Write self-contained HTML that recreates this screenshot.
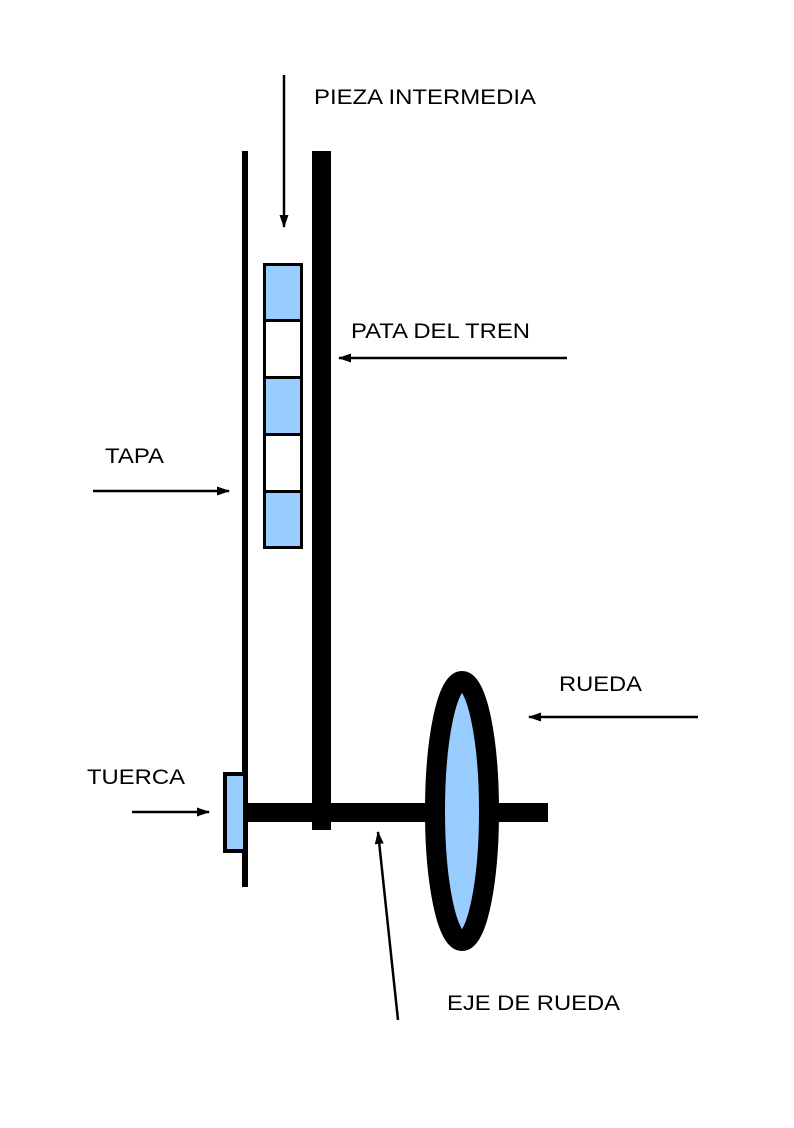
<!DOCTYPE html>
<html><head><style>
body{margin:0;background:#fff}
svg text{font-family:"Liberation Sans",sans-serif;font-size:21px;fill:#000}
</style></head><body>
<svg width="794" height="1123" viewBox="0 0 794 1123" xmlns="http://www.w3.org/2000/svg">
<defs><marker id="a" markerWidth="13" markerHeight="9" refX="12" refY="4.5" orient="auto" markerUnits="userSpaceOnUse"><path d="M0,0 L13,4.5 L0,9 Z" fill="#000"/></marker></defs>
<rect x="242" y="151" width="6" height="736" fill="#000"/>
<rect x="312" y="151" width="19" height="679" fill="#000"/>
<g stroke="#000" stroke-width="3">
<rect x="264.5" y="264.5" width="37" height="56" fill="#99ccff"/>
<rect x="264.5" y="320.5" width="37" height="57" fill="#fff"/>
<rect x="264.5" y="377.5" width="37" height="57" fill="#99ccff"/>
<rect x="264.5" y="434.5" width="37" height="57" fill="#fff"/>
<rect x="264.5" y="491.5" width="37" height="56" fill="#99ccff"/>
<rect x="225" y="774" width="20" height="77" fill="#99ccff" stroke-width="4"/>
</g>
<rect x="246" y="803" width="302" height="19" fill="#000"/>
<ellipse cx="462" cy="811" rx="27" ry="130" fill="#99ccff" stroke="#000" stroke-width="20"/>
<rect x="490" y="803" width="58" height="19" fill="#000"/>
<g stroke="#000" stroke-width="2.5" marker-end="url(#a)">
<line x1="284" y1="75" x2="284" y2="227"/>
<line x1="567" y1="358" x2="339" y2="358"/>
<line x1="93" y1="491" x2="229" y2="491"/>
<line x1="132" y1="812" x2="209" y2="812"/>
<line x1="698" y1="717" x2="529" y2="717"/>
<line x1="398" y1="1020" x2="378" y2="832"/>
</g>
<text x="314" y="104" textLength="222" lengthAdjust="spacingAndGlyphs">PIEZA INTERMEDIA</text>
<text x="351" y="338" textLength="179" lengthAdjust="spacingAndGlyphs">PATA DEL TREN</text>
<text x="105" y="463" textLength="59" lengthAdjust="spacingAndGlyphs">TAPA</text>
<text x="559" y="691" textLength="83" lengthAdjust="spacingAndGlyphs">RUEDA</text>
<text x="87" y="784" textLength="98" lengthAdjust="spacingAndGlyphs">TUERCA</text>
<text x="447" y="1010" textLength="173" lengthAdjust="spacingAndGlyphs">EJE DE RUEDA</text>
</svg>
</body></html>
